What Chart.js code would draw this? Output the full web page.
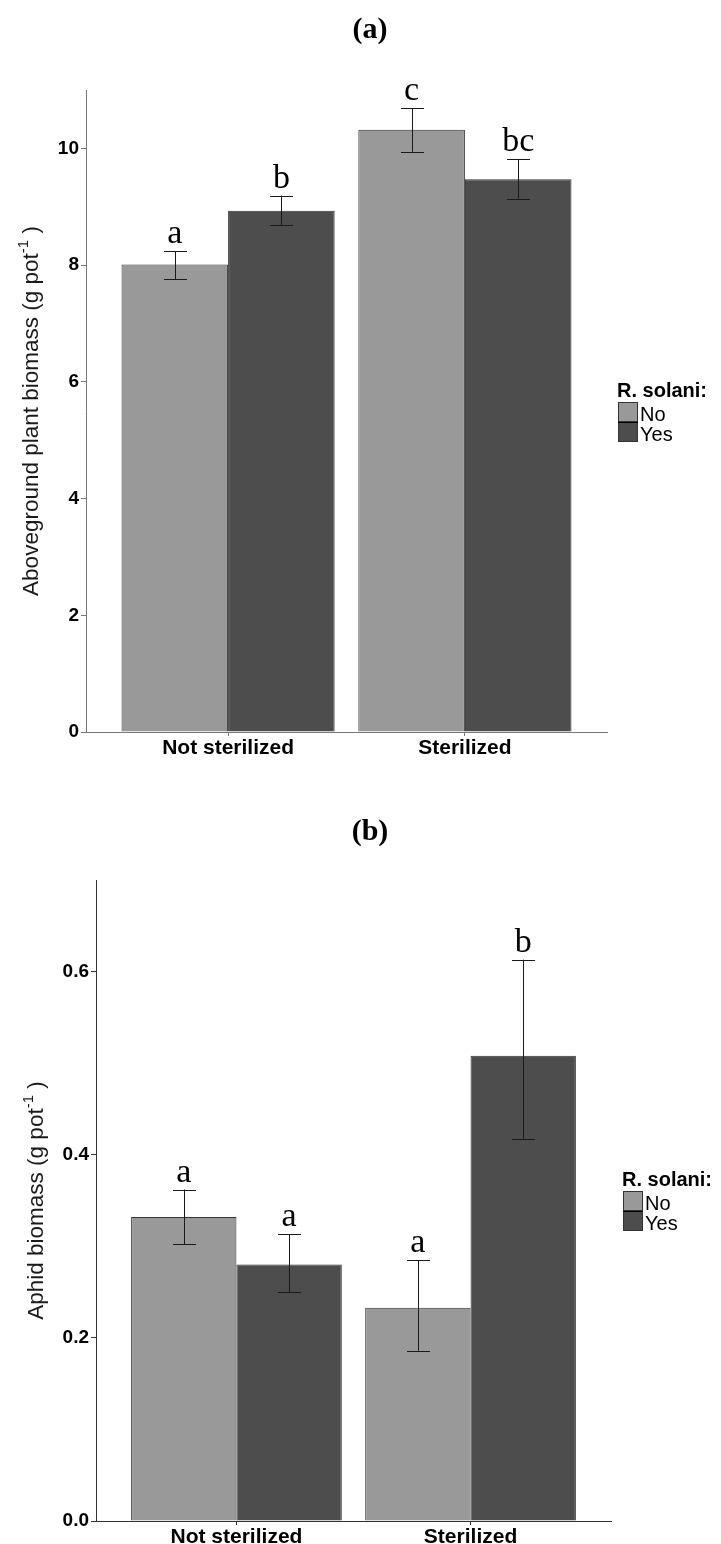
<!DOCTYPE html>
<html>
<head>
<meta charset="utf-8">
<script src="https://cdn.jsdelivr.net/npm/chart.js@4.4.1/dist/chart.umd.min.js"></script>
<style>
  html, body { margin: 0; padding: 0; background: #fff; }
  canvas { display: block; }
</style>
</head>
<body>
<canvas id="chartA" width="721" height="772"></canvas>
<canvas id="chartB" width="721" height="772"></canvas>
<script>
const categories = ["Not sterilized", "Sterilized"];
const groups = ["No", "Yes"];
const colors = ["#999999", "#4d4d4d"];

// (a) aboveground plant biomass
const plantNo = [8.01, 10.32];
const plantYes = [8.93, 9.47];
const plantLowNo = [7.76, 9.94];
const plantHighNo = [8.24, 10.69];
const plantLowYes = [8.68, 9.14];
const plantHighYes = [9.19, 9.81];
const plantLettersNo = ["a", "c"];
const plantLettersYes = ["b", "bc"];
const plantTicks = [0, 2, 4, 6, 8, 10];

// (b) aphid biomass
const aphidNo = [0.332, 0.233];
const aphidYes = [0.280, 0.508];
const aphidLowNo = [0.302, 0.186];
const aphidHighNo = [0.362, 0.285];
const aphidLowYes = [0.250, 0.417];
const aphidHighYes = [0.313, 0.613];
const aphidLettersNo = ["a", "a"];
const aphidLettersYes = ["a", "b"];
const aphidTicks = [0.0, 0.2, 0.4, 0.6];

const sans = '"Liberation Sans", Arial, sans-serif';
const serif = '"Liberation Serif", "Times New Roman", serif';

function points(values) {
  return values.map((v, i) => ({ x: i + 1, y: v }));
}

// error bars + significance letters + panel title + y title + legend
function decorPlugin(cfg) {
  return {
    id: 'decor',
    afterDatasetsDraw(chart) {
      const ctx = chart.ctx;
      const y = chart.scales.y;
      ctx.save();
      [0, 1].forEach(d => {
        const meta = chart.getDatasetMeta(d);
        meta.data.forEach((bar, i) => {
          const lo = y.getPixelForValue(cfg.low[d][i]);
          const hi = y.getPixelForValue(cfg.high[d][i]);
          const x = Math.round(bar.x) + 0.5;
          ctx.strokeStyle = '#1a1a1a';
          ctx.lineWidth = 1;
          ctx.beginPath();
          ctx.moveTo(x, lo); ctx.lineTo(x, hi);
          ctx.moveTo(x - 11.5, Math.round(lo) + 0.5); ctx.lineTo(x + 11.5, Math.round(lo) + 0.5);
          ctx.moveTo(x - 11.5, Math.round(hi) + 0.5); ctx.lineTo(x + 11.5, Math.round(hi) + 0.5);
          ctx.stroke();
          ctx.fillStyle = '#000';
          ctx.font = '34px ' + serif;
          ctx.textAlign = 'center';
          ctx.textBaseline = 'alphabetic';
          ctx.fillText(cfg.letters[d][i], bar.x, hi - 8);
        });
      });
      ctx.restore();
    },
    afterDraw(chart) {
      const ctx = chart.ctx;
      ctx.save();
      // panel title
      ctx.fillStyle = '#000';
      ctx.font = 'bold 30px ' + serif;
      ctx.textAlign = 'center';
      ctx.textBaseline = 'alphabetic';
      ctx.fillText(cfg.title, 370, cfg.titleY);

      // y axis title with superscript
      const a = chart.chartArea;
      const cy = (a.top + a.bottom) / 2;
      ctx.translate(cfg.yTitleX, cy);
      ctx.rotate(-Math.PI / 2);
      ctx.fillStyle = '#1a1a1a';
      ctx.textAlign = 'left';
      const main = cfg.yTitle + ' (g pot';
      ctx.font = '22.5px ' + sans;
      const w1 = ctx.measureText(main).width;
      const w3 = ctx.measureText(' )').width;
      ctx.font = '15px ' + sans;
      const w2 = ctx.measureText('-1').width;
      let x0 = -(w1 + w2 + w3) / 2;
      ctx.font = '22.5px ' + sans;
      ctx.fillText(main, x0, 0);
      ctx.font = '15px ' + sans;
      ctx.fillText('-1', x0 + w1, -10);
      ctx.font = '22.5px ' + sans;
      ctx.fillText(' )', x0 + w1 + w2, 0);
      ctx.restore();

      // legend
      const L = cfg.legend;
      ctx.save();
      ctx.fillStyle = '#000';
      ctx.font = 'bold 20px ' + sans;
      ctx.textAlign = 'left';
      ctx.fillText('R. solani:', L.x, L.y);
      groups.forEach((g, k) => {
        const by = L.y + 5 + k * 20;
        ctx.fillStyle = colors[k];
        ctx.fillRect(L.x + 1, by, 20, 20);
        ctx.strokeStyle = '#333';
        ctx.lineWidth = 1;
        ctx.strokeRect(L.x + 1.5, by + 0.5, 19, 19);
        ctx.fillStyle = '#000';
        ctx.font = '20px ' + sans;
        ctx.fillText(g, L.x + 23, by + 19);
      });
      ctx.beginPath();
      ctx.strokeStyle = '#000';
      ctx.moveTo(L.x + 1, L.y + 25.5); ctx.lineTo(L.x + 21, L.y + 25.5);
      ctx.stroke();
      ctx.restore();
    }
  };
}

function makeChart(id, cfg) {
  new Chart(document.getElementById(id), {
    type: 'bar',
    data: {
      datasets: [
        { label: groups[0], data: points(cfg.values[0]), backgroundColor: colors[0], borderColor: '#333', borderWidth: 1 },
        { label: groups[1], data: points(cfg.values[1]), backgroundColor: colors[1], borderColor: '#333', borderWidth: 1 }
      ]
    },
    options: {
      responsive: false,
      animation: false,
      categoryPercentage: 0.9,
      barPercentage: 1.0,
      layout: { padding: cfg.padding },
      plugins: { legend: { display: false }, tooltip: { enabled: false } },
      scales: {
        x: {
          type: 'linear',
          min: 0.4,
          max: 2.6,
          offset: false,
          afterBuildTicks: s => { s.ticks = [{ value: 1 }, { value: 2 }]; },
          afterFit: s => { s.height = cfg.xHeight; },
          ticks: {
            callback: v => categories[v - 1],
            font: { family: sans, size: 21, weight: 'bold' },
            color: '#000',
            padding: 0,
            maxRotation: 0
          },
          grid: { offset: false, drawOnChartArea: false, tickLength: 4, color: cfg.axisColor },
          border: { color: cfg.axisColor, width: 1 }
        },
        y: {
          min: 0,
          max: cfg.yMax,
          afterBuildTicks: s => { s.ticks = cfg.ticks.map(v => ({ value: v })); },
          afterFit: s => { s.width = cfg.yWidth; },
          ticks: {
            callback: v => v.toFixed(cfg.decimals),
            font: { family: sans, size: 19, weight: 'bold' },
            color: '#000',
            padding: 2
          },
          grid: { drawOnChartArea: false, tickLength: 5, color: cfg.axisColor },
          border: { color: cfg.axisColor, width: 1 }
        }
      }
    },
    plugins: [decorPlugin(cfg)]
  });
}

makeChart('chartA', {
  values: [plantNo, plantYes],
  low: [plantLowNo, plantLowYes],
  high: [plantHighNo, plantHighYes],
  letters: [plantLettersNo, plantLettersYes],
  ticks: plantTicks,
  decimals: 0,
  yMax: 11,
  title: '(a)',
  titleY: 38,
  yTitle: 'Aboveground plant biomass',
  yTitleX: 38,
  padding: { left: 0, top: 90, right: 114, bottom: 0 },
  yWidth: 86,
  xHeight: 40,
  axisColor: '#777',
  legend: { x: 617, y: 397 }
});

makeChart('chartB', {
  values: [aphidNo, aphidYes],
  low: [aphidLowNo, aphidLowYes],
  high: [aphidHighNo, aphidHighYes],
  letters: [aphidLettersNo, aphidLettersYes],
  ticks: aphidTicks,
  decimals: 1,
  yMax: 0.7,
  title: '(b)',
  titleY: 68,
  yTitle: 'Aphid biomass',
  yTitleX: 43,
  padding: { left: 0, top: 108, right: 110, bottom: 0 },
  yWidth: 96,
  xHeight: 23,
  axisColor: '#333',
  legend: { x: 622, y: 414 }
});
</script>
</body>
</html>
